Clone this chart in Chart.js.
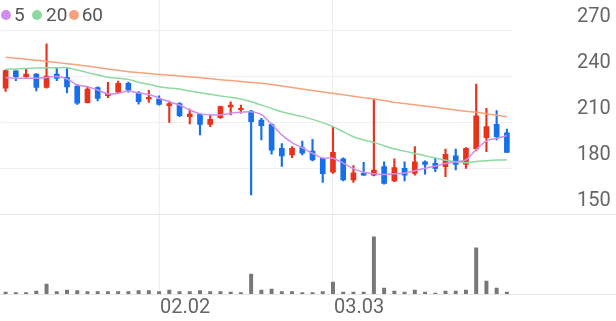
<!DOCTYPE html>
<html>
<head>
<meta charset="utf-8">
<script src="https://cdn.jsdelivr.net/npm/chart.js@4.4.1/dist/chart.umd.min.js"></script>
<style>
  html, body { margin: 0; padding: 0; background: #fff; }
  #wrap { position: relative; width: 616px; height: 321px; }
  .dot { position: absolute; top: 10px; width: 10px; height: 10px; border-radius: 50%; }
  .lbl { position: absolute; top: 5px; font: 19px Roboto, sans-serif; line-height: 19px; color: #555; }
</style>
</head>
<body>
<div id="wrap">
  <canvas id="main-chart"></canvas>
  <div id="legend"></div>
</div>
<script>
// ── Data ─────────────────────────────────────────────────────
const DATES = [
  '01.12','01.13','01.14','01.15','01.16','01.19','01.20','01.21','01.22','01.23',
  '01.26','01.27','01.28','01.29','01.30','02.02','02.03','02.04','02.05','02.06',
  '02.09','02.10','02.11','02.12','02.13','02.19','02.20','02.23','02.24','02.25',
  '02.26','02.27','03.03','03.04','03.05','03.06','03.09','03.10','03.11','03.12',
  '03.13','03.16','03.17','03.18','03.19','03.20','03.23','03.24','03.25','03.26'
];
const TICK_LABELS = ['02.02', '03.03'];
const PRICE_TICKS = [150, 180, 210, 240, 270];

const OPEN = [
  232, 243.3, 239.6, 241.3, 232.6, 241.3, 239.1, 233.5, 222.6, 232.4,
  227.2, 229.4, 235.2, 229.1, 225, 225, 220.6, 222, 213.5, 215,
  208.5, 212.8, 219.8, 218, 217.2, 211.3, 208.5, 192.8, 188.5, 193.3,
  191.1, 186.3, 177.2, 185.9, 172.2, 176.5, 175.4, 180.9, 171.5, 179.8,
  176.5, 184.1, 183, 180.9, 188, 182.4, 192.4, 199.8, 208.5, 203
];
const HIGH = [
  244, 243.5, 245, 241.5, 261, 245, 245, 234.6, 232.8, 233,
  235.9, 236.7, 236, 229.8, 230.7, 227, 223.7, 222.6, 218.5, 215.4,
  214.6, 220.4, 223.2, 221.1, 217.6, 212.4, 209, 196, 194, 197.6,
  198.7, 186.7, 207, 186.7, 181.5, 183.7, 225, 184.1, 185.9, 184.1,
  193.9, 184.6, 186.3, 192.4, 192.4, 193.3, 234.8, 218.9, 217.4, 205.4
];
const LOW = [
  230, 237, 239, 230.2, 232, 237, 229, 221.5, 222.4, 223.7,
  225.9, 228.7, 229.4, 221.7, 222.8, 221, 209.8, 213.5, 208.7, 201.5,
  207, 212.4, 214.6, 215.7, 162.4, 198.3, 189, 181, 186.7, 188.5,
  184.6, 170.6, 176.5, 171.5, 170.6, 175.2, 174.8, 169.4, 171.1, 171.5,
  175.4, 175.9, 177.6, 174.3, 178.7, 179.8, 191.1, 190.6, 198.3, 190.2
];
const CLOSE = [
  243.5, 239.6, 241.3, 232.6, 240, 238.5, 232.8, 222.2, 231.5, 225.4,
  228.3, 235.2, 230.9, 223.2, 226.1, 221.5, 222, 214.1, 215.2, 208.5,
  211.7, 220, 221.1, 218.9, 210.2, 207.6, 191.7, 187.8, 192.8, 189.6,
  185.2, 176.3, 190.2, 172.2, 176.9, 175.4, 178.7, 170, 180.3, 175.4,
  184.1, 182.4, 179.8, 188.9, 182.4, 192.8, 214.1, 207, 200.4, 190.2
];
const VOLUME = [
  3.5, 2.6, 2.6, 5.3, 17.5, 4.4, 7, 6.1, 4.4, 4.4,
  4.4, 4.4, 4.4, 6.1, 6.1, 4.4, 7, 4.4, 4.4, 6.1,
  4.4, 4.4, 3.5, 2.6, 35, 7, 8.8, 4.4, 4.4, 2.6,
  2.6, 4.4, 21, 3.5, 3.5, 3.5, 100, 10.5, 5.3, 3.5,
  7, 3.5, 1.8, 5.3, 5.3, 7, 80.7, 22.8, 10.5, 3.5
];
const MA5 = [
  239.1, 238.5, 238.5, 238.5, 239.1, 239.6, 238, 234.1, 233, 230.9,
  228.3, 228.7, 230.2, 228.9, 228, 225.5, 223.2, 221.1, 217.8, 215.3,
  214.6, 214.6, 215.7, 216.3, 216.7, 214.8, 208.6, 201.6, 196.6, 193.2,
  189.6, 186.5, 186.4, 183.2, 179.6, 177.2, 176.2, 175.8, 176.2, 176.8,
  178.2, 179.9, 181.3, 182.9, 184, 185.3, 192, 197.7, 199.3, 201.1
];
const MA20 = [
  244.4, 244.6, 244.9, 245.2, 245.4, 245.4, 245.4, 243.9, 242.2, 240.7,
  239.1, 238.5, 237.8, 235.9, 234.6, 233, 232.2, 231.5, 230.2, 229.1,
  228.1, 227, 226.1, 225, 223.2, 221.1, 218.9, 216.7, 215, 213.5,
  211.7, 209.6, 207, 203.7, 200.4, 198.3, 196.7, 194.5, 192.5, 191,
  189.5, 188, 186.5, 185, 184, 183.5, 184.2, 184.8, 185.2, 185.3
];
const MA60 = [
  252.2, 251.6, 251, 250.3, 249.5, 248.8, 248, 247.3, 246.5, 245.6,
  244.6, 243.7, 242.8, 242.2, 241.6, 241, 240.5, 240, 239.4, 238.9,
  238.3, 237.6, 237, 236.4, 235.8, 235.2, 234.4, 233.5, 232.5, 231.5,
  230.5, 229.6, 228.7, 227.8, 226.8, 225.9, 225, 224, 222.8, 222,
  221.2, 220.4, 219.6, 218.7, 217.8, 217, 216.3, 215.4, 214.4, 213.5
];

// ── Styles ───────────────────────────────────────────────────
const UP = '#e8321c';
const DOWN = '#1670ec';
const MA_LINES = [
  { label: '5', data: MA5, color: '#cf8df0' },
  { label: '20', data: MA20, color: '#8ed9a0' },
  { label: '60', data: MA60, color: '#f7a27c' },
];
const candleColors = OPEN.map((o, i) => CLOSE[i] >= o ? UP : DOWN);
const AXIS_FONT = { size: 20, family: 'Roboto' };

// ── HTML legend ──────────────────────────────────────────────
const LEGEND_POS = [[1, 14], [32.3, 46], [69, 81.7]];
document.getElementById('legend').innerHTML = MA_LINES.map((m, i) =>
  `<span class="dot" style="left:${LEGEND_POS[i][0]}px;background:${m.color}"></span>` +
  `<span class="lbl" style="left:${LEGEND_POS[i][1]}px">${m.label}</span>`
).join('');

// full-width separator lines between price and volume panes
const separators = {
  id: 'separators',
  beforeDatasetsDraw(chart) {
    const { ctx, width, scales: { y, v } } = chart;
    ctx.save();
    ctx.strokeStyle = '#e6e6e6';
    ctx.lineWidth = 1;
    [y.getPixelForValue(PRICE_TICKS[0]), v.getPixelForValue(0)].forEach(py => {
      const yy = Math.round(py) + 0.5;
      ctx.beginPath();
      ctx.moveTo(0, yy);
      ctx.lineTo(width, yy);
      ctx.stroke();
    });
    ctx.restore();
  }
};

const noPad = s => { s.paddingTop = 0; s.paddingBottom = 0; s.paddingLeft = 0; s.paddingRight = 0; };

new Chart(document.getElementById('main-chart'), {
  data: {
    labels: DATES,
    datasets: [
      ...MA_LINES.map(m => ({
        type: 'line', label: m.label, data: m.data, yAxisID: 'y',
        borderColor: m.color, borderWidth: 1.5, pointRadius: 0, tension: 0.3, order: 0,
      })),
      {
        type: 'bar', label: 'body', yAxisID: 'y', grouped: false, order: 1,
        data: OPEN.map((o, i) => [o, CLOSE[i]]),
        backgroundColor: candleColors, barThickness: 5, minBarLength: 1.5,
      },
      {
        type: 'bar', label: 'wick', yAxisID: 'y', grouped: false, order: 2,
        data: LOW.map((l, i) => [l, HIGH[i]]),
        backgroundColor: candleColors, barThickness: 1.5,
      },
      {
        type: 'bar', label: 'volume', yAxisID: 'v', grouped: false, order: 3,
        data: VOLUME, backgroundColor: '#777777', barThickness: 3.3,
      },
    ]
  },
  options: {
    responsive: true,
    maintainAspectRatio: false,
    animation: false,
    layout: { padding: { left: 0.5, top: 0, right: 0, bottom: 0 } },
    plugins: { legend: { display: false }, tooltip: { enabled: false } },
    scales: {
      x: {
        type: 'category',
        offset: true,
        afterFit: noPad,
        border: { display: false },
        grid: {
          offset: false, drawTicks: false,
          color: c => TICK_LABELS.includes(DATES[c.index]) ? '#eeeeee' : 'rgba(0,0,0,0)'
        },
        ticks: {
          autoSkip: false, maxRotation: 0, align: 'start', padding: 1.5, labelOffset: 1,
          color: '#666', font: AXIS_FONT,
          callback: (val, i) => TICK_LABELS.includes(DATES[i]) ? DATES[i] : ''
        }
      },
      y: {
        position: 'right', stack: 'main', stackWeight: 214 / 80,
        min: 150, max: 270 + 30 * 30 / 46,
        afterBuildTicks: s => { s.ticks = PRICE_TICKS.map(value => ({ value })); },
        afterFit: s => { noPad(s); s.width = 104; },
        border: { display: false },
        grid: { drawTicks: false, color: c => c.tick && c.tick.value === PRICE_TICKS[0] ? 'rgba(0,0,0,0)' : '#f0f0f0' },
        ticks: { padding: 65, labelOffset: -13, color: '#666', font: AXIS_FONT }
      },
      v: {
        position: 'right', stack: 'main', stackWeight: 1,
        min: 0, max: 140,
        afterFit: s => { noPad(s); s.width = 104; },
        border: { display: false },
        grid: { display: false },
        ticks: { display: false }
      }
    }
  },
  plugins: [separators]
});
</script>
</body>
</html>
